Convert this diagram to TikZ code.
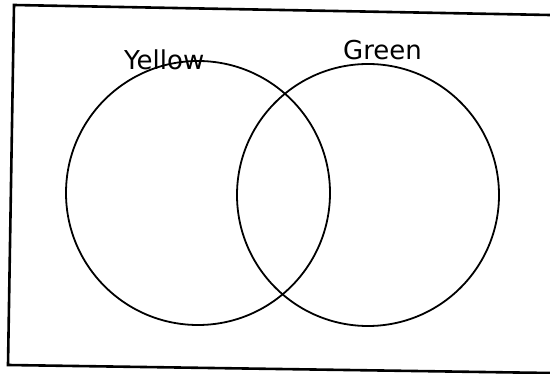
\documentclass[tikz,border=0pt]{standalone}
\usepackage{fontspec}
\setmainfont{DejaVu Sans}
\begin{document}
\begin{tikzpicture}[x=1pt,y=-1pt,
  ring/.style={draw=black,line width=1.8pt},
  frame/.style={draw=black,line width=2.6pt},
  setlabel/.style={anchor=base west,inner sep=0pt,font=\fontsize{26}{30}\selectfont}]
\useasboundingbox (0,0) rectangle (550,374);
\fill[white] (0,0) rectangle (550,374);
\coordinate (tr) at (550,15);
\coordinate (tl) at (14,5);
\coordinate (bl) at (8,365);
\coordinate (br) at (550,373);
\draw[frame] (tr) -- (tl) -- (bl) -- (br);
\node[ring,circle,minimum size=264pt,inner sep=0pt] (yellow) at (198,193) {};
\node[ring,circle,minimum size=262pt,inner sep=0pt] (green) at (368,195) {};
\node[setlabel] (ylab) at (124,70) {Yellow};
\node[setlabel] (glab) at (343,60) {Green};
\end{tikzpicture}
\end{document}
